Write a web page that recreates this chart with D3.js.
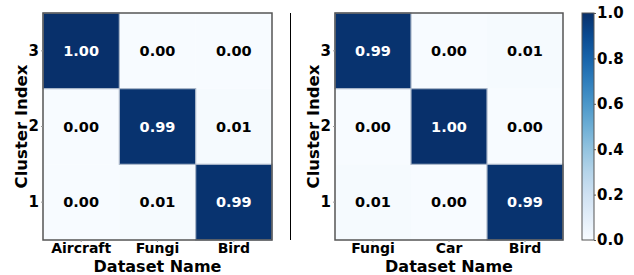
<!DOCTYPE html>
<html>
<head>
<meta charset="utf-8">
<script src="https://cdn.jsdelivr.net/npm/d3@7"></script>
<style>
  body { margin: 0; background: #fff; }
  text { font-family: "DejaVu Sans", sans-serif; font-weight: bold; }
</style>
</head>
<body>
<script>
// cluster rows (top to bottom) and the two panels
var clusters = ["3", "2", "1"];
var leftNames = ["Aircraft", "Fungi", "Bird"];
var leftValues = [
    [1.00, 0.00, 0.00],
    [0.00, 0.99, 0.01],
    [0.00, 0.01, 0.99]
];
var rightNames = ["Fungi", "Car", "Bird"];
var rightValues = [
    [0.99, 0.00, 0.01],
    [0.00, 1.00, 0.00],
    [0.01, 0.00, 0.99]
];
var cbarTicks = [0, 0.2, 0.4, 0.6, 0.8, 1.0];

var width = 634, height = 275;

var svg = d3.select("body").append("svg")
    .attr("width", width)
    .attr("height", height);

var color = d3.scaleSequential(d3.interpolateBlues).domain([0, 1]);

// draw one heatmap panel
function drawPanel(x0, x1, names, values){
    var top = 13, bottom = 240;
    var g = svg.append("g");

    var x = d3.scaleBand().domain(names).range([x0, x1]);
    var y = d3.scaleBand().domain(clusters).range([top, bottom]);

    var cells = [];
    values.forEach(function(row, i){
        row.forEach(function(v, j){
            cells.push({r: clusters[i], c: names[j], v: v});
        });
    });

    g.selectAll(".cell")
        .data(cells)
        .enter()
        .append("rect")
        .attr("class", "cell")
        .attr("x", function(d){ return x(d.c); })
        .attr("y", function(d){ return y(d.r); })
        .attr("width", x.bandwidth())
        .attr("height", y.bandwidth())
        .attr("fill", function(d){ return color(d.v); });

    // faint edge only shows around the dark cells
    g.selectAll(".edge")
        .data(cells.filter(function(d){ return d.v > 0.5; }))
        .enter()
        .append("rect")
        .attr("class", "edge")
        .attr("x", function(d){ return x(d.c); })
        .attr("y", function(d){ return y(d.r); })
        .attr("width", x.bandwidth())
        .attr("height", y.bandwidth())
        .attr("fill", "none")
        .attr("stroke", "#a9b6c9")
        .attr("stroke-width", 1.2);

    g.selectAll(".val")
        .data(cells)
        .enter()
        .append("text")
        .attr("x", function(d){ return x(d.c) + x.bandwidth() / 2; })
        .attr("y", function(d){ return y(d.r) + y.bandwidth() / 2; })
        .attr("dy", "0.36em")
        .attr("text-anchor", "middle")
        .attr("font-size", 14.5)
        .attr("fill", function(d){ return d.v > 0.5 ? "#fff" : "#000"; })
        .text(function(d){ return d.v.toFixed(2); });

    // frame
    g.append("rect")
        .attr("x", x0).attr("y", top)
        .attr("width", x1 - x0).attr("height", bottom - top)
        .attr("fill", "none")
        .attr("stroke", "#555")
        .attr("stroke-width", 1.5);

    var xAxis = g.append("g")
        .attr("transform", "translate(0," + bottom + ")")
        .call(d3.axisBottom(x).tickSize(2).tickPadding(1));
    xAxis.select(".domain").remove();
    xAxis.selectAll("line").attr("stroke", "#999");
    xAxis.selectAll("text").attr("font-size", 14).attr("fill", "#000")
        .attr("font-family", "DejaVu Sans");

    var yAxis = g.append("g")
        .attr("transform", "translate(" + x0 + ",0)")
        .call(d3.axisLeft(y).tickSize(2).tickPadding(2));
    yAxis.select(".domain").remove();
    yAxis.selectAll("line").attr("stroke", "#999");
    yAxis.selectAll("text").attr("font-size", 15).attr("fill", "#000")
        .attr("font-family", "DejaVu Sans");

    g.append("text")
        .attr("x", (x0 + x1) / 2)
        .attr("y", 272)
        .attr("text-anchor", "middle")
        .attr("font-size", 16)
        .text("Dataset Name");

    g.append("text")
        .attr("transform", "translate(" + (x0 - 16) + "," + ((top + bottom) / 2) + ") rotate(-90)")
        .attr("text-anchor", "middle")
        .attr("font-size", 16.5)
        .text("Cluster Index");
}

drawPanel(43, 272, leftNames, leftValues);
drawPanel(335, 563, rightNames, rightValues);

// separator line between panels
svg.append("line")
    .attr("x1", 290.5).attr("x2", 290.5)
    .attr("y1", 13).attr("y2", 240)
    .attr("stroke", "#000")
    .attr("stroke-width", 1);

// colorbar
var cbX = 582, cbW = 12, cbTop = 13, cbBottom = 240;
var defs = svg.append("defs");
var grad = defs.append("linearGradient")
    .attr("id", "cbar")
    .attr("x1", 0).attr("y1", 1).attr("x2", 0).attr("y2", 0);
d3.range(0, 1.0001, 0.1).forEach(function(t){
    grad.append("stop")
        .attr("offset", t)
        .attr("stop-color", color(t));
});
svg.append("rect")
    .attr("x", cbX).attr("y", cbTop)
    .attr("width", cbW).attr("height", cbBottom - cbTop)
    .attr("fill", "url(#cbar)")
    .attr("stroke", "#555")
    .attr("stroke-width", 1);

var cbScale = d3.scaleLinear().domain([0, 1]).range([cbBottom, cbTop]);
var cbAxis = svg.append("g")
    .attr("transform", "translate(" + (cbX + cbW) + ",0)")
    .call(d3.axisRight(cbScale).tickValues(cbarTicks).tickFormat(d3.format(".1f")).tickSize(2).tickPadding(1));
cbAxis.select(".domain").remove();
cbAxis.selectAll("line").attr("stroke", "#555");
cbAxis.selectAll("text").attr("font-size", 15).attr("fill", "#000")
    .attr("font-family", "DejaVu Sans");
</script>
</body>
</html>
